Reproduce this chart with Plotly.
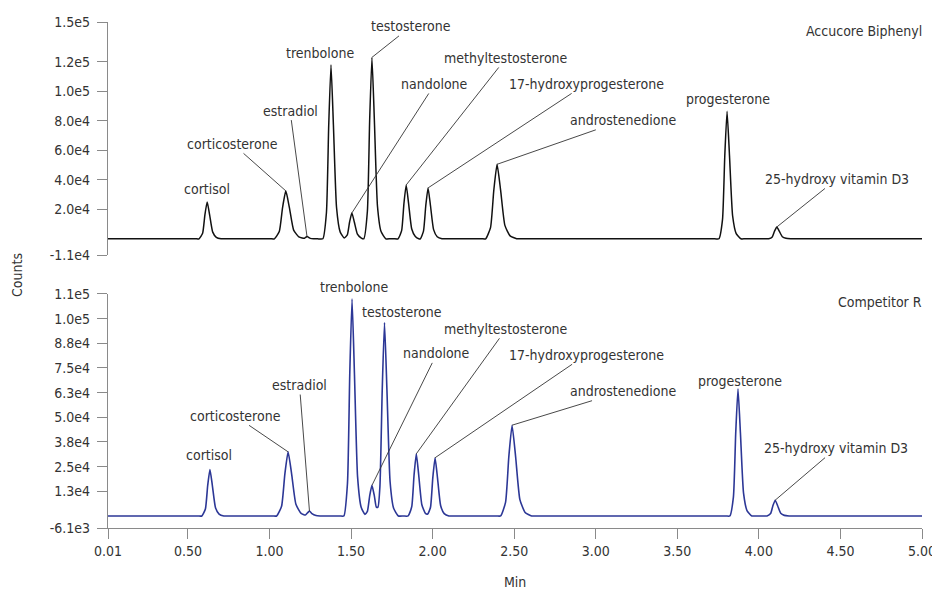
import plotly.graph_objects as go

# ---------------- data ----------------
peak_names = ["cortisol", "corticosterone", "estradiol", "trenbolone", "nandolone",
              "testosterone", "methyltestosterone", "17-hydroxyprogesterone",
              "androstenedione", "progesterone", "25-hydroxy vitamin D3"]

# Accucore Biphenyl (top) – peak apex
top_peak_times = [0.618, 1.100, 1.230, 1.377, 1.505, 1.628, 1.838, 1.972, 2.395, 3.805, 4.110]
top_peak_heights = [25000, 32500, 1500, 118000, 17500, 123000, 36500, 34500, 50500, 86500, 8000]

# Competitor R (bottom)
bot_peak_times = [0.635, 1.114, 1.245, 1.506, 1.628, 1.705, 1.900, 2.015, 2.487, 3.872, 4.100]
bot_peak_heights = [23500, 32500, 2500, 110000, 15500, 98000, 31500, 29500, 46000, 64500, 8000]

# chromatogram traces (time in min, counts)
top_time = [0.01,
            0.545, 0.568, 0.590, 0.604, 0.618, 0.633, 0.652, 0.674, 0.703, 0.728,
            1.005, 1.030, 1.060, 1.080, 1.100, 1.122, 1.148, 1.180, 1.200,
            1.215, 1.230, 1.250, 1.270, 1.295,
            1.327, 1.349, 1.363, 1.377, 1.392, 1.411, 1.433, 1.458,
            1.477, 1.491, 1.505, 1.520, 1.539, 1.561,
            1.578, 1.600, 1.614, 1.628, 1.643, 1.662, 1.684, 1.713, 1.740,
            1.763, 1.788, 1.810, 1.824, 1.838, 1.853, 1.872, 1.894, 1.915,
            1.925, 1.944, 1.958, 1.972, 1.987, 2.006, 2.028, 2.057, 2.082,
            2.300, 2.325, 2.355, 2.375, 2.395, 2.417, 2.443, 2.475, 2.515, 2.540,
            3.730, 3.755, 3.777, 3.791, 3.805, 3.820, 3.839, 3.861, 3.890, 3.915,
            4.035, 4.060, 4.082, 4.096, 4.110, 4.125, 4.144, 4.166, 4.195, 4.220,
            5.00]
top_counts = [0,
              0, 0, 3750, 16250, 25000, 16250, 4500, 1000, 0, 0,
              0, 0, 4900, 21100, 32500, 21100, 5900, 1300, 600,
              400, 1500, 300, 0, 0,
              0, 17700, 76700, 118000, 76700, 21200, 4700, 600,
              2600, 11400, 17500, 11400, 3200, 700,
              0, 18500, 80000, 123000, 80000, 22100, 4900, 0, 0,
              0, 0, 5500, 23700, 36500, 23700, 6600, 1500, 0,
              0, 5200, 22400, 34500, 22400, 6200, 1400, 0, 0,
              0, 0, 7600, 32800, 50500, 32800, 9100, 2000, 0, 0,
              0, 0, 13000, 56200, 86500, 56200, 15600, 3500, 0, 0,
              0, 0, 1200, 5200, 8000, 5200, 1400, 300, 0, 0,
              0]

bot_time = [0.01,
            0.560, 0.585, 0.607, 0.621, 0.635, 0.650, 0.669, 0.691, 0.720, 0.745,
            1.019, 1.044, 1.074, 1.094, 1.114, 1.136, 1.162, 1.194, 1.220,
            1.232, 1.245, 1.260, 1.285, 1.310, 1.335,
            1.431, 1.456, 1.478, 1.492, 1.506, 1.521, 1.540, 1.562, 1.585,
            1.600, 1.614, 1.628, 1.643, 1.655, 1.665,
            1.677, 1.691, 1.705, 1.720, 1.739, 1.761, 1.790, 1.820,
            1.850, 1.872, 1.886, 1.900, 1.915, 1.934, 1.956, 1.970,
            1.987, 2.001, 2.015, 2.030, 2.049, 2.071, 2.100, 2.125,
            2.392, 2.417, 2.447, 2.467, 2.487, 2.509, 2.535, 2.567, 2.607, 2.632,
            3.797, 3.822, 3.844, 3.858, 3.872, 3.887, 3.906, 3.928, 3.957, 3.982,
            4.025, 4.050, 4.072, 4.086, 4.100, 4.115, 4.134, 4.156, 4.185, 4.210,
            5.00]
bot_counts = [0,
              0, 0, 3500, 15300, 23500, 15300, 4200, 900, 0, 0,
              0, 0, 4900, 21100, 32500, 21100, 5900, 1300, 500,
              1500, 2500, 1200, 200, 0, 0,
              0, 0, 16500, 71500, 110000, 71500, 19800, 4400, 800,
              2300, 10100, 15500, 10100, 4500, 4500,
              15000, 63700, 98000, 63700, 17600, 3900, 0, 0,
              0, 4700, 20500, 31500, 20500, 5700, 1300, 1000,
              4400, 19200, 29500, 19200, 5300, 1200, 0, 0,
              0, 0, 6900, 29900, 46000, 29900, 8300, 1800, 0, 0,
              0, 0, 9700, 41900, 64500, 41900, 11600, 2600, 0, 0,
              0, 0, 1200, 5200, 8000, 5200, 1400, 300, 0, 0,
              0]

x_tick_vals = [0.01, 0.5, 1.0, 1.5, 2.0, 2.5, 3.0, 3.5, 4.0, 4.5, 5.0]
x_tick_text = ["0.01", "0.50", "1.00", "1.50", "2.00", "2.50", "3.00", "3.50", "4.00", "4.50", "5.00"]

top_tick_vals = [-11000, 20000, 40000, 60000, 80000, 100000, 120000, 147000]
top_tick_text = ["-1.1e4", "2.0e4", "4.0e4", "6.0e4", "8.0e4", "1.0e5", "1.2e5", "1.5e5"]

bot_tick_vals = [-6100, 12500, 25000, 37500, 50000, 62500, 75000, 87500, 100000, 112500]
bot_tick_text = ["-6.1e3", "1.3e4", "2.5e4", "3.8e4", "5.0e4", "6.3e4", "7.5e4", "8.8e4", "1.0e5", "1.1e5"]

# ---------------- layout / style ----------------
FONT = "DejaVu Sans Condensed, Liberation Sans Narrow, sans-serif"
TXT = "#333333"
AX = "#8a8a8a"
TOP_COLOR = "#111111"
BOT_COLOR = "#2c3796"
FS = 14

# label offsets (pixels, text centre relative to apex) and whether a leader line is drawn
top_offsets = [(0, -13, False), (-53, -47, True), (-17, -126, True), (-11, -12, False),
               (83, -129, True), (39, -31, True), (100, -127, True), (158, -104, True),
               (126, -44, True), (1, -12, False), (60, -48, True)]
bot_offsets = [(-1, -15, False), (-53, -36, True), (-10, -126, True), (2, -12, False),
               (65, -132, True), (17, -11, False), (90, -125, True), (151, -103, True),
               (111, -34, True), (2, -8, False), (61, -52, True)]

fig = go.Figure()
fig.add_trace(go.Scatter(x=top_time, y=top_counts, mode="lines", xaxis="x", yaxis="y",
                         line=dict(color=TOP_COLOR, width=1.5, shape="spline", smoothing=0.5),
                         showlegend=False, hoverinfo="skip"))
fig.add_trace(go.Scatter(x=bot_time, y=bot_counts, mode="lines", xaxis="x", yaxis="y2",
                         line=dict(color=BOT_COLOR, width=1.6, shape="spline", smoothing=0.5),
                         showlegend=False, hoverinfo="skip"))

annotations = []
for yref, names, times, heights, offs in (("y", peak_names, top_peak_times, top_peak_heights, top_offsets),
                                         ("y2", peak_names, bot_peak_times, bot_peak_heights, bot_offsets)):
    for name, t, h, (ax, ay, line) in zip(names, times, heights, offs):
        annotations.append(dict(x=t, y=h, xref="x", yref=yref, text=name, showarrow=True,
                                ax=ax, ay=ay, arrowhead=0, arrowwidth=0.9,
                                arrowcolor="#333333" if line else "rgba(0,0,0,0)",
                                standoff=0, font=dict(family=FONT, size=FS, color=TXT)))

annotations += [
    dict(x=1.0, y=1.0, xref="paper", yref="paper", xanchor="right", yanchor="middle",
         yshift=-9, xshift=2, text="Accucore Biphenyl", showarrow=False,
         font=dict(family=FONT, size=FS, color=TXT)),
    dict(x=1.0, y=0.4625, xref="paper", yref="paper", xanchor="right", yanchor="middle",
         yshift=-8, xshift=2, text="Competitor R", showarrow=False,
         font=dict(family=FONT, size=FS, color=TXT)),
    dict(x=0, y=0.5, xref="paper", yref="paper", xanchor="center", yanchor="middle",
         xshift=-91, text="Counts", textangle=-90, showarrow=False,
         font=dict(family=FONT, size=FS, color=TXT)),
    dict(x=0.5, y=0, xref="paper", yref="paper", xanchor="center", yanchor="middle",
         yshift=-54, text="Min", showarrow=False,
         font=dict(family=FONT, size=FS, color=TXT)),
]

axis_common = dict(showline=True, linecolor=AX, linewidth=1.3, ticks="outside", ticklen=10,
                   tickcolor=AX, tickwidth=1.3, showgrid=False, zeroline=False,
                   automargin=False,
                   tickfont=dict(family=FONT, size=FS, color=TXT))

fig.update_layout(
    template="none",
    width=932, height=586,
    margin=dict(l=100, r=18, t=14, b=66, pad=0, autoexpand=False),
    paper_bgcolor="white", plot_bgcolor="white",
    font=dict(family=FONT, size=FS, color=TXT),
    xaxis=dict(range=[0.01, 5.0], anchor="y2", tickvals=x_tick_vals, ticktext=x_tick_text,
               ticklabeloverflow="allow", **axis_common),
    yaxis=dict(domain=[0.5395, 1.0], range=[-11000, 147000], anchor="x",
               tickvals=top_tick_vals, ticktext=top_tick_text, ticklabelstandoff=4,
               **axis_common),
    yaxis2=dict(domain=[0.0, 0.4625], range=[-6100, 112500], anchor="x",
                tickvals=bot_tick_vals, ticktext=bot_tick_text, ticklabelstandoff=4,
                **axis_common),
    annotations=annotations,
)

fig.write_html("out.html")
